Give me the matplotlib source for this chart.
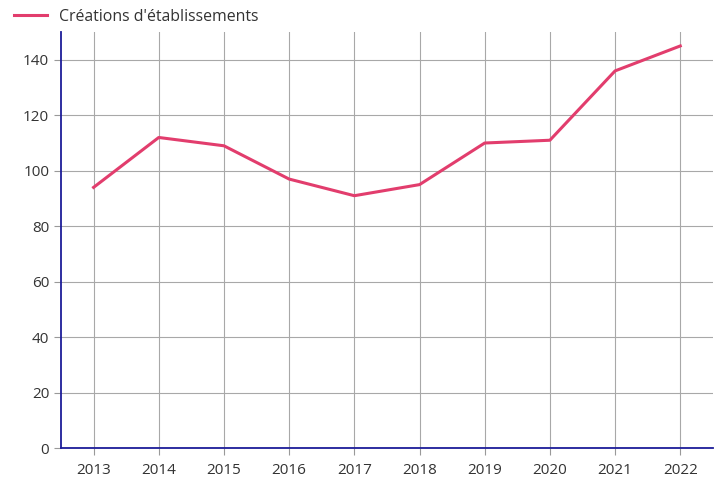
import matplotlib
matplotlib.use("Agg")
import matplotlib.pyplot as plt

# data
years = [2013, 2014, 2015, 2016, 2017, 2018, 2019, 2020, 2021, 2022]
creations = [94, 112, 109, 97, 91, 95, 110, 111, 136, 145]
series_label = "Créations d'établissements"

plt.rcParams['font.family'] = ['Open Sans', 'DejaVu Sans']

fig = plt.figure(figsize=(7.14, 4.86), dpi=100)
ax = fig.add_axes([0.0854, 0.078, 0.913, 0.856])

ax.plot(years, creations, color='#e23d6d', linewidth=2.2, label=series_label)

ax.set_xlim(2012.5, 2022.5)
ax.set_ylim(0, 150)
ax.set_xticks(years)
ax.set_yticks(range(0, 141, 20))

ax.grid(True, color='#a8a8a8', linewidth=0.8)
ax.set_axisbelow(True)
for side in ['top', 'right']:
    ax.spines[side].set_visible(False)
for side in ['left', 'bottom']:
    ax.spines[side].set_color('#1c1c99')
    ax.spines[side].set_linewidth(1.3)

ax.tick_params(axis='both', colors='#999999', labelcolor='#333333',
               labelsize=11, length=5, width=0.8)
ax.tick_params(axis='x', pad=6)

fig.legend(loc='center left', bbox_to_anchor=(0.019, 0.965), frameon=False,
           fontsize=11.4, handlelength=2.1, handletextpad=0.75,
           borderpad=0, borderaxespad=0, labelcolor='#333333')

fig.savefig('out.png', dpi=100)
